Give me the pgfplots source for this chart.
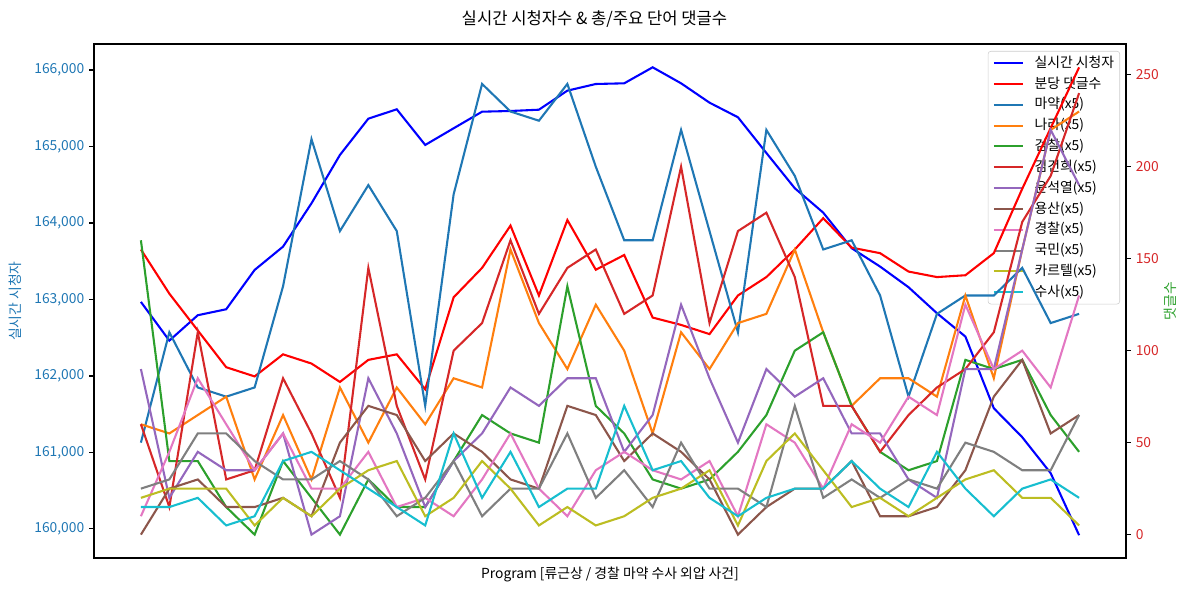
\documentclass[border=0pt]{standalone}
\usepackage{fontspec}
\setmainfont{Noto Sans CJK KR}
\usepackage{pgfplots}
\pgfplotsset{compat=1.18}
\usepackage{pgfplotstable}
\definecolor{tabblue}{HTML}{1F77B4}
\definecolor{taborange}{HTML}{FF7F0E}
\definecolor{tabgreen}{HTML}{2CA02C}
\definecolor{tabred}{HTML}{D62728}
\definecolor{tabpurple}{HTML}{9467BD}
\definecolor{tabbrown}{HTML}{8C564B}
\definecolor{tabpink}{HTML}{E377C2}
\definecolor{tabgray}{HTML}{7F7F7F}
\definecolor{tabolive}{HTML}{BCBD22}
\definecolor{tabcyan}{HTML}{17BECF}
\definecolor{pureblue}{HTML}{0000FF}
\definecolor{purered}{HTML}{FF0000}

\pgfplotstableread{
x view cmt maya nara geom kim yoon yong gyeong gukmin cartel susa
0 162968 155 50 60 160 60 90 0 10 25 20 15
1 162462 131 110 55 40 15 20 25 45 30 25 15
2 162794 111 80 65 40 110 45 30 85 55 25 20
3 162872 91 75 75 15 30 35 15 60 55 25 5
4 163386 86 80 30 0 35 35 15 35 40 5 10
5 163691 98 135 65 40 85 55 20 55 30 20 40
6 164257 93 215 30 20 55 0 10 25 30 10 45
7 164889 83 165 80 0 20 10 50 25 40 25 35
8 165364 95 190 50 30 145 85 70 45 30 35 25
9 165486 98 165 80 15 70 55 65 15 10 40 15
10 165020 79 70 60 15 30 15 40 20 20 10 5
11 165238 129 185 85 40 100 40 55 10 40 20 55
12 165455 145 245 80 65 115 55 45 30 10 40 20
13 165464 168 230 155 55 160 80 30 55 25 25 45
14 165481 130 225 115 50 120 70 25 25 25 5 15
15 165730 171 245 90 135 145 85 70 10 55 15 25
16 165817 144 200 125 70 155 85 65 35 20 5 25
17 165826 152 160 100 55 120 45 40 45 35 10 70
18 166035 118 160 55 30 130 65 55 35 15 20 35
19 165826 114 220 110 25 200 125 45 30 50 25 40
20 165573 109 165 90 30 115 85 30 40 25 35 20
21 165382 130 110 115 45 165 50 0 10 25 5 10
22 164915 140 220 120 65 175 90 15 60 15 40 20
23 164454 155 195 155 100 140 75 25 50 70 55 25
24 164135 172 155 110 110 70 85 25 25 20 35 25
25 163670 156 160 70 70 70 55 40 60 30 15 40
26 163430 153 130 85 45 45 55 10 50 20 20 25
27 163160 143 75 85 35 65 30 10 75 30 10 15
28 162820 140 120 75 40 80 20 15 65 25 20 45
29 162515 141 130 130 95 90 90 35 125 50 30 25
30 161578 153 130 85 90 110 90 75 90 45 35 10
31 161199 188 145 155 95 170 155 95 100 35 20 25
32 160729 221 115 220 65 195 220 55 80 35 20 30
33 159918 254 120 230 45 240 190 65 130 65 5 20
}\data

\pgfplotsset{
  common/.style={
    at={(0.94in,0.35in)}, anchor=south west,
    width=10.32in, height=5.14in, scale only axis,
    xmin=-1.65, xmax=34.65, xtick=\empty,
    tick align=outside, major tick length=0.0486in,
    tick style={black, line width=0.8bp},
    axis line style={line width=0.8bp},
    tick label style={font=\fontsize{10}{12}\selectfont},
    label style={font=\fontsize{10}{12}\selectfont},
    /pgf/number format/assume math mode=true,
    scaled y ticks=false,
  },
  ln/.style={line width=1.5bp},
}

\begin{document}
\begin{tikzpicture}
\path[use as bounding box] (0,0) rectangle (11.89in,5.93in);
\node[font=\fontsize{12}{14}\selectfont] at (5.945in,5.74in) {실시간 시청자수 \& 총/주요 단어 댓글수};

\begin{axis}[common,
  ymin=159620, ymax=166340,
  ytick={160000,161000,162000,163000,164000,165000,166000}, ytick pos=left,
  yticklabels={160{,}000,161{,}000,162{,}000,163{,}000,164{,}000,165{,}000,166{,}000},
  yticklabel style={color=tabblue},
  ylabel={실시간 시청자},
  ylabel style={color=tabblue, at={(axis description cs:-0.0766,0.5)}, anchor=center},
  xlabel={Program [류근상 / 경찰 마약 수사 외압 사건]},
  xlabel style={at={(axis description cs:0.5,-0.033)}, anchor=center},
  legend cell align=left,
  legend image code/.code={\draw[#1] (0in,0in) -- (0.29in,0in);},
  legend style={at={(0.9942,0.9864)}, anchor=north east,
    draw=black!20, rounded corners=2bp, fill=white, fill opacity=0.8,
    draw opacity=1, text opacity=1,
    font=\fontsize{10}{12}\selectfont,
    inner xsep=3.5bp, inner ysep=2.5bp, row sep=3bp, column sep=0.1in,
    nodes={inner sep=0.5bp, text height=8.5bp, text depth=2.5bp}},
]
\addplot[pureblue, ln] table[x=x, y=view]{\data};
\addlegendentry{실시간 시청자}
\addlegendimage{purered, ln}\addlegendentry{분당 댓글수}
\addlegendimage{tabblue, ln}\addlegendentry{마약(x5)}
\addlegendimage{taborange, ln}\addlegendentry{나라(x5)}
\addlegendimage{tabgreen, ln}\addlegendentry{검찰(x5)}
\addlegendimage{tabred, ln}\addlegendentry{김건희(x5)}
\addlegendimage{tabpurple, ln}\addlegendentry{윤석열(x5)}
\addlegendimage{tabbrown, ln}\addlegendentry{용산(x5)}
\addlegendimage{tabpink, ln}\addlegendentry{경찰(x5)}
\addlegendimage{tabgray, ln}\addlegendentry{국민(x5)}
\addlegendimage{tabolive, ln}\addlegendentry{카르텔(x5)}
\addlegendimage{tabcyan, ln}\addlegendentry{수사(x5)}
\end{axis}

\begin{axis}[common,
  axis x line=none, axis y line*=right,
  ymin=-12.7, ymax=266.7,
  ytick={0,50,100,150,200,250},
  yticklabels={0,50,100,150,200,250},
  yticklabel style={color=tabred},
  ylabel={댓글수},
  ylabel style={color=tabgreen, at={(axis description cs:1.0426,0.5)}, anchor=center},
]
\addplot[purered, ln] table[x=x, y=cmt]{\data};
\addplot[tabblue, ln] table[x=x, y=maya]{\data};
\addplot[taborange, ln] table[x=x, y=nara]{\data};
\addplot[tabgreen, ln] table[x=x, y=geom]{\data};
\addplot[tabred, ln] table[x=x, y=kim]{\data};
\addplot[tabpurple, ln] table[x=x, y=yoon]{\data};
\addplot[tabbrown, ln] table[x=x, y=yong]{\data};
\addplot[tabpink, ln] table[x=x, y=gyeong]{\data};
\addplot[tabgray, ln] table[x=x, y=gukmin]{\data};
\addplot[tabolive, ln] table[x=x, y=cartel]{\data};
\addplot[tabcyan, ln] table[x=x, y=susa]{\data};
\end{axis}
\end{tikzpicture}
\end{document}
